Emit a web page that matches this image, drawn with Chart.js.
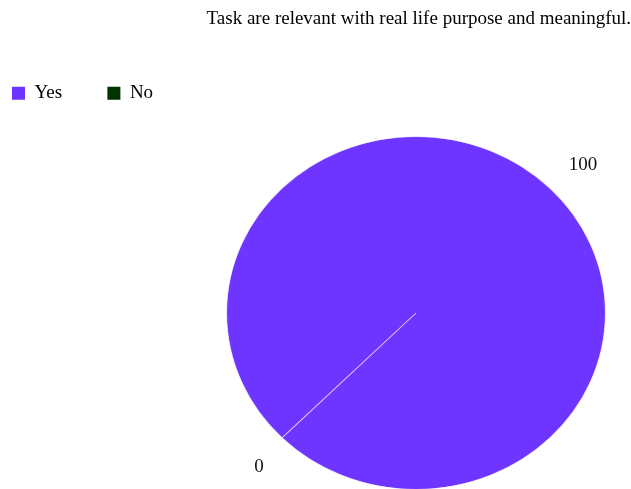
<!DOCTYPE html>
<html>
<head>
<meta charset="utf-8">
<script src="https://cdn.jsdelivr.net/npm/chart.js@4.4.0/dist/chart.umd.min.js"></script>
<style>
  html, body { margin: 0; padding: 0; background: #fff; overflow: hidden; }
  #wrap { width: 631px; height: 520px; }
</style>
</head>
<body>
<div id="wrap"><canvas id="taskChart"></canvas></div>
<script>
// 응답 데이터
const answerLabels = ["Yes", "No"];
const answerValues = [100, 0];
const answerColors = ["#6d35ff", "#003300"];
const chartTitle = "Task are relevant with real life purpose and meaningful.";

const serif = "'Liberation Serif', 'Times New Roman', serif";

// 파이 영역 고정 (가로로 약간 넓은 타원)
const pieBox = { cx: 416, cy: 313, r: 177, stretchX: 190 / 177 };

const piePlacement = {
    id: "piePlacement",
    afterLayout(chart) {
        const { cx, cy, r } = pieBox;
        chart.chartArea = { left: cx - r, right: cx + r, top: cy - r, bottom: cy + r, width: r * 2, height: r * 2 };
    },
    beforeDatasetsDraw(chart) {
        const ctx = chart.ctx;
        ctx.save();
        ctx.translate(pieBox.cx, pieBox.cy);
        ctx.scale(pieBox.stretchX, 1);
        ctx.translate(-pieBox.cx, -pieBox.cy);
    },
    afterDatasetsDraw(chart) {
        const ctx = chart.ctx;
        ctx.restore();

        // 값 라벨 (조각 바깥쪽)
        const meta = chart.getDatasetMeta(0);
        ctx.save();
        ctx.font = "19px " + serif;
        ctx.fillStyle = "#111";
        ctx.textAlign = "center";
        ctx.textBaseline = "middle";
        meta.data.forEach((arc, i) => {
            const p = arc.getProps(["x", "y", "startAngle", "endAngle", "outerRadius"], true);
            const mid = (p.startAngle + p.endAngle) / 2;
            const dist = p.outerRadius * 1.21;
            const tx = p.x + Math.cos(mid) * dist * pieBox.stretchX + 5;
            const ty = p.y + Math.sin(mid) * dist + 3;
            ctx.fillText(String(answerValues[i]), tx, ty);
        });
        ctx.restore();
    }
};

new Chart(document.getElementById("taskChart"), {
    type: "pie",
    data: {
        labels: answerLabels,
        datasets: [{
            data: answerValues,
            backgroundColor: answerColors,
            borderColor: "rgba(255,255,255,0.75)",
            borderWidth: 1
        }]
    },
    options: {
        responsive: true,
        maintainAspectRatio: false,
        animation: false,
        rotation: 225,
        plugins: {
            title: {
                display: true,
                text: chartTitle,
                align: "end",
                color: "#000",
                font: { family: serif, size: 19, weight: "normal" },
                padding: { top: 8, bottom: 41 }
            },
            legend: {
                position: "top",
                align: "start",
                labels: {
                    boxWidth: 13,
                    boxHeight: 13,
                    padding: 12,
                    color: "#000",
                    font: { family: serif, size: 19 },
                    // 항목 간격 넓히기
                    generateLabels(chart) {
                        const items = Chart.overrides.pie.plugins.legend.labels.generateLabels(chart);
                        items.forEach((it, i) => {
                            if (i < items.length - 1) it.text = it.text + "       ";
                            it.strokeStyle = it.fillStyle;
                            it.lineWidth = 0;
                        });
                        return items;
                    }
                }
            },
            tooltip: { enabled: false }
        }
    },
    plugins: [piePlacement]
});
</script>
</body>
</html>
